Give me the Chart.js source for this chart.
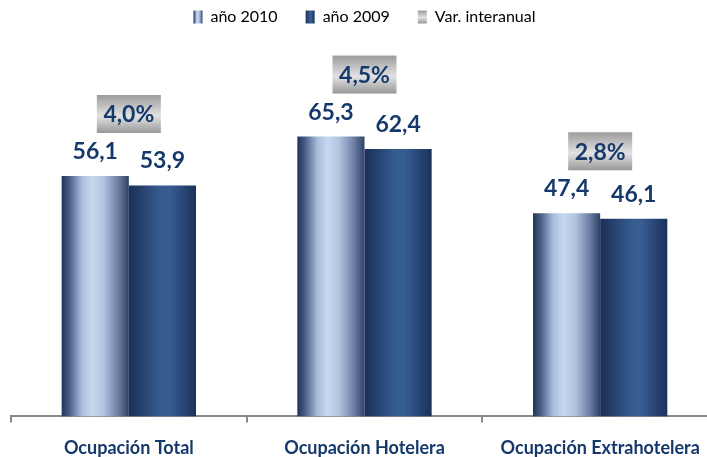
<!DOCTYPE html>
<html>
<head>
<meta charset="utf-8">
<script src="https://cdn.jsdelivr.net/npm/chart.js@4"></script>
<style>
html,body{margin:0;padding:0;background:#fff;overflow:hidden;}
#wrap{width:718px;height:457px;position:relative;}
</style>
</head>
<body>
<div id="wrap"><canvas id="c"></canvas></div>
<script>
const categories = ['Ocupación Total', 'Ocupación Hotelera', 'Ocupación Extrahotelera'];
const seriesNames = ['año 2010', 'año 2009', 'Var. interanual'];
const values2010 = [56.1, 65.3, 47.4];
const values2009 = [53.9, 62.4, 46.1];
const varValues = [4.0, 4.5, 2.8];

const NAVY = '#15396a';
const fmt = v => v.toFixed(1).replace('.', ',');

function grad2010(ctx, x0, x1) {
  const g = ctx.createLinearGradient(x0, 0, x1, 0);
  g.addColorStop(0, '#1f3459');
  g.addColorStop(0.12, '#4b6088');
  g.addColorStop(0.3, '#a9bddb');
  g.addColorStop(0.45, '#c7d8ef');
  g.addColorStop(0.62, '#b3c5e0');
  g.addColorStop(0.85, '#6a7ca0');
  g.addColorStop(1, '#2e4168');
  return g;
}
function grad2009(ctx, x0, x1) {
  const g = ctx.createLinearGradient(x0, 0, x1, 0);
  g.addColorStop(0, '#1a2f56');
  g.addColorStop(0.45, '#355a8e');
  g.addColorStop(0.6, '#385d92');
  g.addColorStop(1, '#1b315a');
  return g;
}
function gradGrey(ctx, y0, y1) {
  const g = ctx.createLinearGradient(0, y0, 0, y1);
  g.addColorStop(0, '#9c9c9c');
  g.addColorStop(0.55, '#e2e2e2');
  g.addColorStop(1, '#989898');
  return g;
}

const barStyler = {
  id: 'barStyler',
  beforeDatasetsDraw(chart) {
    const ctx = chart.ctx;
    [0, 1].forEach(di => {
      chart.getDatasetMeta(di).data.forEach(el => {
        const x0 = el.x - el.width / 2, x1 = el.x + el.width / 2;
        el.options.backgroundColor = di === 0 ? grad2010(ctx, x0, x1) : grad2009(ctx, x0, x1);
      });
    });
  }
};

const labelsPlugin = {
  id: 'labelsPlugin',
  afterDatasetsDraw(chart) {
    const ctx = chart.ctx;
    ctx.save();
    ctx.fillStyle = NAVY;
    ctx.font = 'bold 23px Lato';
    ctx.textAlign = 'center';
    ctx.textBaseline = 'alphabetic';
    [0, 1].forEach(di => {
      const ds = chart.data.datasets[di];
      chart.getDatasetMeta(di).data.forEach((el, i) => {
        ctx.fillText(fmt(ds.data[i]), el.x, el.y - 17);
      });
    });
    const m0 = chart.getDatasetMeta(0).data, m1 = chart.getDatasetMeta(1).data;
    const mv = chart.getDatasetMeta(2).data;
    const vals = chart.data.datasets[2].data;
    mv.forEach((el, i) => {
      const topY = Math.min(m0[i].y, m1[i].y);
      const bw = 64, bh = 38;
      const by = topY - 43 - bh;
      const bx = el.x - bw / 2;
      ctx.fillStyle = gradGrey(ctx, by, by + bh);
      ctx.fillRect(bx, by, bw, bh);
      ctx.fillStyle = NAVY;
      ctx.textBaseline = 'middle';
      ctx.fillText(fmt(vals[i]) + '%', el.x, by + bh / 2 + 1);
    });
    ctx.restore();
  }
};

const legendBoxes = {
  id: 'legendBoxes',
  afterDraw(chart) {
    const lg = chart.legend;
    if (!lg || !lg.legendHitBoxes) return;
    const ctx = chart.ctx;
    const bw = 9, bh = 13, fs = 16;
    lg.legendHitBoxes.forEach((hb, i) => {
      const x = hb.left, y = hb.top + Math.max((fs - bh) / 2, 0);
      ctx.fillStyle = '#fff';
      ctx.fillRect(x - 1, y - 1, bw + 2, bh + 2);
      if (i === 0) ctx.fillStyle = grad2010(ctx, x, x + bw);
      else if (i === 1) ctx.fillStyle = grad2009(ctx, x, x + bw);
      else ctx.fillStyle = gradGrey(ctx, y, y + bh);
      ctx.fillRect(x, y, bw, bh);
    });
  }
};

new Chart(document.getElementById('c'), {
  type: 'bar',
  data: {
    labels: categories,
    datasets: [
      { label: seriesNames[0], data: values2010, backgroundColor: () => '#8fa4c8', borderWidth: 0 },
      { label: seriesNames[1], data: values2009, backgroundColor: () => '#2c4c7c', borderWidth: 0 },
      { type: 'line', label: seriesNames[2], data: varValues, yAxisID: 'y2', showLine: false, pointRadius: 0, borderColor: '#bbb', backgroundColor: '#bbb' }
    ]
  },
  options: {
    responsive: true,
    maintainAspectRatio: false,
    animation: false,
    events: [],
    devicePixelRatio: 1,
    layout: { padding: { left: 11, right: 0, top: -19, bottom: -17 } },
    datasets: { bar: { categoryPercentage: 0.57, barPercentage: 1.0 } },
    plugins: {
      tooltip: { enabled: false },
      legend: {
        position: 'top',
        labels: {
          font: { family: 'Lato', size: 16 },
          color: '#333',
          boxWidth: 9,
          boxHeight: 13,
          padding: 28,
          generateLabels(chart) {
            return chart.data.datasets.map((ds, i) => ({
              text: ds.label,
              fillStyle: ['#8fa4c8', '#2c4c7c', '#c8c8c8'][i],
              strokeStyle: 'rgba(0,0,0,0)',
              lineWidth: 0,
              hidden: false,
              datasetIndex: i
            }));
          }
        }
      }
    },
    scales: {
      x: {
        grid: { display: true, drawOnChartArea: false, drawTicks: true, tickLength: 6, color: '#8a8a8a', lineWidth: 2, offset: true },
        border: { display: true, color: '#8a8a8a', width: 2 },
        ticks: { color: NAVY, font: { family: 'Lato', size: 18, weight: 'bold' }, padding: 15, maxRotation: 0, autoSkip: false }
      },
      y: { display: false, min: 0, max: 89 },
      y2: { display: false, min: 0, max: 10 }
    }
  },
  plugins: [barStyler, labelsPlugin, legendBoxes]
});
</script>
</body>
</html>
